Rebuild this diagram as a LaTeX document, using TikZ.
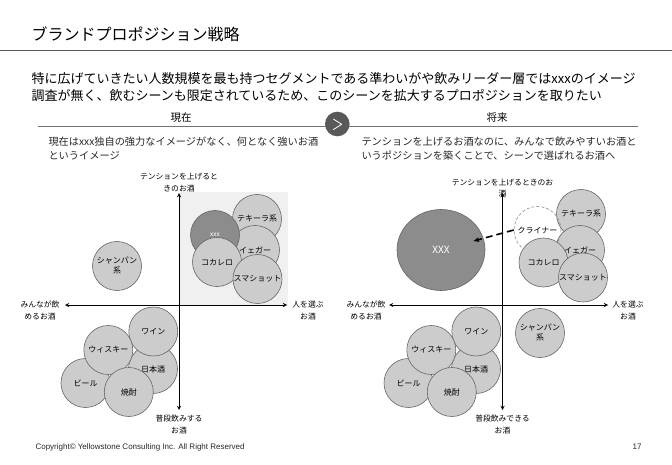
\documentclass[tikz,border=0pt]{standalone}
\usepackage{fontspec}
\setmainfont{Noto Sans CJK JP}
\newfontfamily\copyfont{Liberation Sans}
\usetikzlibrary{shapes.geometric,arrows.meta}

\tikzset{
  drink/.style={circle, draw=black!60, fill=black!20, line width=0.6pt, minimum size=49pt, inner sep=0pt, align=center, font=\fontsize{8}{10}\selectfont},
  axis/.style={<->, >=stealth, line width=0.9pt},
  axlabel/.style={align=center, font=\fontsize{7.8}{11.6}\selectfont},
  pull/.style={line width=1.6pt, dash pattern=on 7pt off 4pt, -{Latex[length=6pt,width=5pt]}, shorten >=33pt},
}

\begin{document}
\begin{tikzpicture}[x=1pt, y=-1pt, line join=round]
\useasboundingbox (0,0) rectangle (672,465);
% heading
\node[anchor=west, font=\fontsize{16}{16}\selectfont] (title) at (28,34) {ブランドプロポジション戦略};
\draw[line width=1.6pt, black!65] (0,50.7) -- (672,50.7);
\node[anchor=west, align=left, font=\fontsize{13}{17.7}\selectfont] (lead) at (28,87.2) {特に広げていきたい人数規模を最も持つセグメントである準わいがや飲みリーダー層ではxxxのイメージ\\調査が無く、飲むシーンも限定されているため、このシーンを拡大するプロポジションを取りたい};

% now / future
\node[font=\fontsize{10.5}{12}\selectfont] (now) at (181,117.5) {現在};
\node[font=\fontsize{10.5}{12}\selectfont] (future) at (497,117.5) {将来};
\draw[black!55, line width=0.8pt] (38,126.5) -- (326,126.5);
\draw[black!55, line width=0.8pt] (349,126.5) -- (638,126.5);
\node[circle, fill=black!65, minimum size=24.6pt, inner sep=0pt] (go) at (337.3,124) {};
\draw[white, line width=0.8pt] (333.3,119) -- (341.7,124.3) -- (333.3,129.6);
\node[anchor=west, align=left, font=\fontsize{10.2}{13.4}\selectfont, black!85] (nowtxt) at (45,148.5) {現在はxxx独自の強力なイメージがなく、何となく強いお酒\\というイメージ};
\node[anchor=west, align=left, font=\fontsize{10.2}{13.4}\selectfont, black!85] (futtxt) at (358,148.5) {テンションを上げるお酒なのに、みんなで飲みやすいお酒と\\いうポジションを築くことで、シーンで選ばれるお酒へ};

% left map
\fill[black!6] (180,192) rectangle (288,305);
\node[drink] (tequila) at (257,219) {テキーラ系};
\node[drink] (jager) at (255,250) {イェガー};
\node[drink, fill=black!45, text=white, font=\fontsize{6.5}{8}\selectfont] (xxxs) at (215,235) {xxx};
\node[drink] (cocalero) at (217,262) {コカレロ};
\node[drink] (smashot) at (257.5,279) {スマショット};
\node[drink] (champ) at (117,266) {シャンパン\\系};
\node[drink] (sake) at (153,369) {日本酒};
\node[drink] (wine) at (153.3,331.5) {ワイン};
\node[drink] (beer) at (85.5,383) {ビール};
\node[drink] (whisky) at (108.3,350) {ウィスキー};
\node[drink] (shochu) at (128.8,392) {焼酎};

\coordinate (lw) at (65,305);
\coordinate (le) at (287,305);
\coordinate (ln) at (179,193);
\coordinate (ls) at (179,410);
\draw[axis] (lw) -- (le);
\draw[axis] (ln) -- (ls);
\node[axlabel] (lnlab) at (179,182.5) {テンションを上げると\\きのお酒};
\node[axlabel] (lwlab) at (40,310.5) {みんなが飲\\めるお酒};
\node[axlabel] (lelab) at (308,310.5) {人を選ぶ\\お酒};
\node[axlabel] (lslab) at (179,424.5) {普段飲みする\\お酒};

% right map
\node[drink, shape=ellipse, minimum width=88pt, minimum height=81pt, fill=black!45, text=white, font=\fontsize{10}{12}\selectfont] (xxxb) at (441,250) {XXX};
\node[drink] (rtequila) at (581,214) {テキーラ系};
\node[drink] (rjager) at (580,250) {イェガー};
\node[drink, fill=none, draw=black!45, dash pattern=on 3pt off 2pt, minimum size=47pt] (kl) at (537.5,230) {クライナー};
\node[drink] (rcocalero) at (543.5,262.5) {コカレロ};
\node[drink] (rsmashot) at (583,277.5) {スマショット};
\draw[pull] (kl.west) -- (xxxb.center);
\node[drink] (rchamp) at (540,333) {シャンパン\\系};
\node[drink] (rsake) at (476,369) {日本酒};
\node[drink] (rwine) at (476.3,331.5) {ワイン};
\node[drink] (rbeer) at (408.5,383) {ビール};
\node[drink] (rwhisky) at (431.3,350) {ウィスキー};
\node[drink] (rshochu) at (451.8,392) {焼酎};

\coordinate (rw) at (389,305);
\coordinate (re) at (608,305);
\coordinate (rn) at (502.5,193);
\coordinate (rs) at (502.5,410);
\draw[axis] (rw) -- (re);
\draw[axis] (rn) -- (rs);
\node[axlabel] (rnlab) at (502.5,188) {テンションを上げるときのお\\酒};
\node[axlabel] (rwlab) at (366,310.5) {みんなが飲\\めるお酒};
\node[axlabel] (relab) at (628,310.5) {人を選ぶ\\お酒};
\node[axlabel] (rslab) at (502.5,424.5) {普段飲みできる\\お酒};

% footer
\node[anchor=west, font=\copyfont\fontsize{8}{9}\selectfont, black!85] (copy) at (32,447) {Copyright© Yellowstone Consulting Inc. All Right Reserved};
\node[font=\copyfont\fontsize{8}{9}\selectfont, black!85] (page) at (637,447) {17};
\end{tikzpicture}
\end{document}
